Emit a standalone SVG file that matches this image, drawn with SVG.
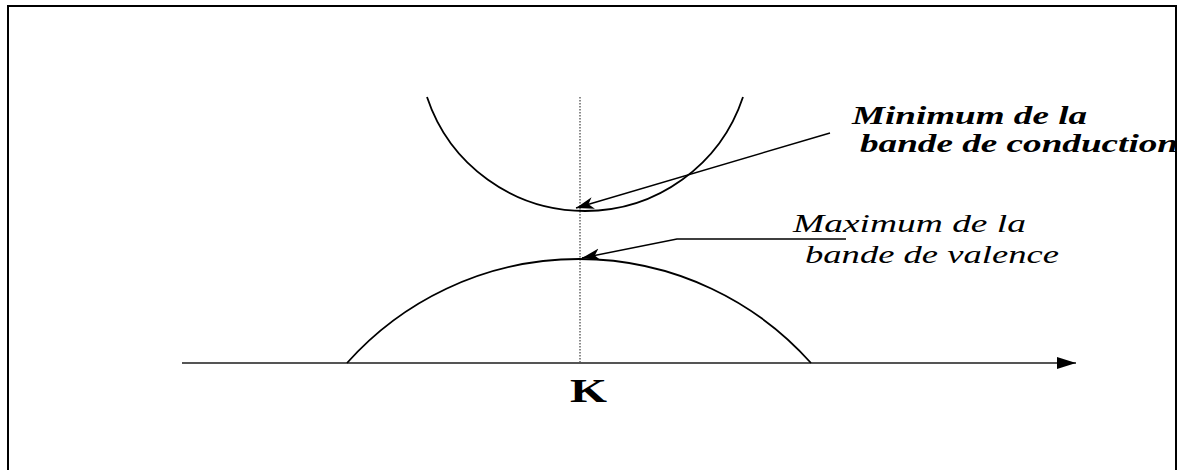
<svg xmlns="http://www.w3.org/2000/svg" width="1198" height="470" viewBox="0 0 1198 470">
<defs>
<style>
.curve{fill:none;stroke:#000;stroke-width:1.8}
.lead{fill:none;stroke:#000;stroke-width:1.5}
.bi{font-family:"Liberation Serif","Times New Roman",serif;font-style:italic;font-weight:bold;font-size:26px;fill:#000}
.it{font-family:"Liberation Serif","Times New Roman",serif;font-style:italic;font-size:25px;fill:#000}
.k{font-family:"Liberation Serif","Times New Roman",serif;font-weight:bold;font-size:34px;fill:#000}
</style>
<marker id="ah" markerUnits="userSpaceOnUse" markerWidth="20" markerHeight="14" refX="18" refY="6" orient="auto" viewBox="0 0 20 12">
<path d="M0,0 L18,6 L0,12 L5,6 Z" fill="#000"/>
</marker>
<marker id="ax" markerUnits="userSpaceOnUse" markerWidth="20" markerHeight="14" refX="19" refY="6" orient="auto" viewBox="0 0 20 12">
<path d="M0,0 L19,6 L0,12 Z" fill="#000"/>
</marker>
</defs>
<rect x="0" y="0" width="1198" height="470" fill="#fff"/>
<rect id="frame" x="8" y="6" width="1168" height="480" fill="none" stroke="#000" stroke-width="2"/>
<g id="axis">
<line x1="182" y1="363" x2="1076" y2="363" stroke="#555" stroke-width="2.2" marker-end="url(#ax)"/>
</g>
<g id="k-line">
<line x1="580" y1="97" x2="580" y2="362" stroke="#666" stroke-width="1.5" stroke-dasharray="1.5,1.5"/>
</g>
<g id="conduction-band">
<path class="curve" d="M427,97 A166.5,166.5 0 0 0 743,97"/>
</g>
<g id="valence-band">
<path class="curve" d="M347,363 A310.8,310.8 0 0 1 811,363"/>
</g>
<g id="connectors">
<path class="lead" d="M830,133 L576,208" marker-end="url(#ah)"/>
<path class="lead" d="M846,239 L677,239 L582,258" marker-end="url(#ah)"/>
</g>
<g id="label-min">
<text class="bi" x="852" y="124" textLength="235" lengthAdjust="spacingAndGlyphs">Minimum de la</text>
<text class="bi" x="860" y="152" textLength="318" lengthAdjust="spacingAndGlyphs">bande de conduction</text>
</g>
<g id="label-max">
<text class="it" x="793" y="232" textLength="233" lengthAdjust="spacingAndGlyphs">Maximum de la</text>
<text class="it" x="805" y="263" textLength="254" lengthAdjust="spacingAndGlyphs">bande de valence</text>
</g>
<g id="label-k">
<text class="k" x="570" y="402" textLength="37" lengthAdjust="spacingAndGlyphs">K</text>
</g>
</svg>
